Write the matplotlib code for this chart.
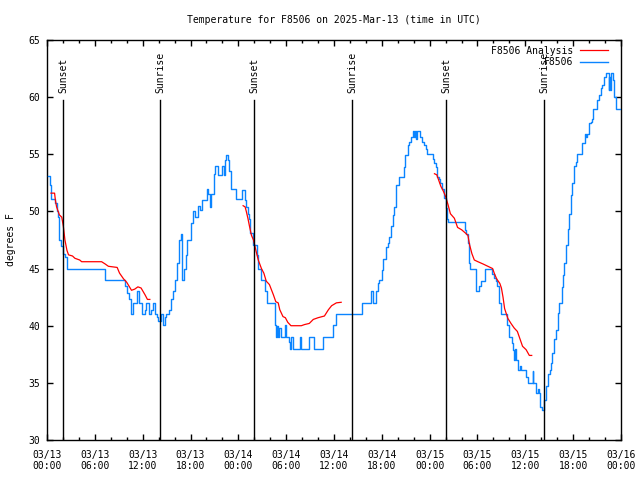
#!/usr/bin/env python3

import numpy as np
import matplotlib
matplotlib.use("Agg")
import matplotlib.pyplot as plt
from matplotlib.ticker import MultipleLocator, FixedLocator

#####
##### Data (hours since 2025-03-13 00:00 UTC)
#####

OBS_HOURS = [0.15, 0.35, 0.45, 0.55, 1.0, 1.2, 1.4, 1.55, 1.7, 2.05, 2.25, 2.55, 7.25,
             9.77, 9.98, 10.28, 10.5, 10.8, 11.3, 11.55, 11.95, 12.25, 12.45, 12.85,
             13.1, 13.25, 13.6, 13.8, 13.95, 14.3, 14.5, 14.75, 14.95, 15.3, 15.6,
             15.85, 16.0, 16.35, 16.55, 16.75, 16.95, 17.2, 17.4, 17.6, 18.0, 18.3,
             18.6, 18.9, 19.2, 19.5, 19.8, 20.1, 20.25, 20.4, 20.6, 20.9, 21.1, 21.5,
             22.0, 22.15, 22.3, 22.5, 22.65, 22.8, 23.1, 23.7, 24.4, 24.8, 25.0, 25.2,
             25.35, 25.45, 25.85, 26.3, 26.5, 26.9, 27.3, 27.6, 28.6, 28.7, 28.85,
             29.0, 29.15, 29.3, 29.8, 29.95, 30.4, 30.5, 30.65, 30.8, 31.7, 31.85,
             32.9, 33.5, 34.65, 35.85, 36.3, 39.55, 40.7, 40.9, 41.3, 41.5, 41.6,
             42.05, 42.2, 42.5, 42.75, 42.9, 43.15, 43.35, 43.55, 43.8, 44.15, 44.75,
             44.95, 45.25, 45.45, 45.6, 45.85, 46.0, 46.1, 46.25, 46.4, 46.85, 47.1,
             47.35, 47.5, 47.7, 48.4, 48.55, 48.8, 48.95, 49.2, 49.35, 49.6, 49.75,
             49.85, 50.05, 50.15, 50.35, 52.4, 52.6, 52.8, 52.95, 53.05, 53.75, 53.85,
             54.2, 54.45, 54.9, 55.85, 56.05, 56.3, 56.5, 56.65, 57.0, 57.65, 57.95,
             58.3, 58.45, 58.6, 58.7, 58.8, 59.05, 59.3, 59.4, 60.1, 60.3, 60.9, 61.0,
             61.35, 61.6, 61.75, 61.9, 62.1, 62.3, 62.55, 62.8, 63.05, 63.25, 63.4,
             63.6, 63.85, 64.05, 64.2, 64.55, 64.7, 64.9, 65.1, 65.3, 65.5, 65.7, 65.9,
             66.15, 66.3, 66.45, 67.15, 67.45, 67.55, 67.7, 67.95, 68.2, 68.35, 68.55,
             68.95, 69.25, 69.45, 69.65, 69.85, 70.15, 70.45, 70.55, 70.65, 70.8, 71.0,
             71.1, 71.35, 71.9]
OBS_TEMPS = [53.1, 52.3, 51.6, 51.1, 50.7, 50.0, 49.5, 47.5, 47.0, 46.3, 46.0, 45.0, 44.0,
             43.5, 42.9, 42.3, 41.0, 42.0, 43.0, 42.0, 41.0, 41.4, 42.0, 41.0,
             41.4, 42.0, 41.0, 40.8, 40.4, 41.0, 40.1, 40.8, 41.0, 41.4, 42.3,
             43.0, 44.0, 45.5, 47.5, 48.0, 44.0, 45.0, 46.2, 47.5, 49.0, 50.0,
             49.5, 50.5, 50.1, 51.0, 51.0, 52.0, 51.5, 50.4, 51.5, 53.3, 54.0, 53.2,
             54.0, 53.2, 54.5, 54.9, 54.5, 53.5, 52.0, 51.1, 51.9, 51.0, 50.4, 49.8,
             49.3, 48.1, 47.1, 46.2, 45.0, 44.0, 43.0, 42.0, 40.1, 39.0, 40.0,
             39.0, 39.8, 39.0, 40.1, 39.0, 38.6, 38.0, 39.0, 38.0, 39.0, 38.0,
             39.0, 38.0, 39.0, 40.1, 41.0, 42.0, 43.0, 42.0, 43.0, 43.7, 44.0,
             44.9, 45.8, 46.9, 47.2, 47.8, 48.7, 49.7, 50.4, 52.3, 53.0, 53.9,
             54.9, 55.8, 56.1, 56.5, 57.0, 56.5, 57.0, 56.3, 57.0, 56.5, 56.1,
             55.8, 55.5, 55.0, 54.6, 54.2, 53.9, 53.0, 52.8, 52.5, 52.0, 51.7,
             51.2, 50.3, 49.3, 49.1, 48.4, 48.0, 47.2, 45.5, 45.0, 44.0, 43.0,
             43.5, 43.9, 45.0, 44.5, 44.2, 43.9, 43.5, 42.0, 41.0, 40.1, 39.0,
             38.5, 37.9, 37.0, 38.0, 37.0, 36.1, 36.5, 36.1, 35.5, 35.0, 36.0, 35.0,
             34.1, 34.5, 34.1, 32.9, 32.6, 33.5, 34.7, 35.8, 36.1, 36.7, 37.6,
             38.8, 39.6, 41.1, 42.0, 43.4, 44.4, 45.5, 47.1, 48.5, 49.8, 51.4, 52.5,
             54.0, 54.3, 55.0, 56.0, 56.8, 56.5, 56.8, 57.7, 57.8, 58.1, 59.0,
             59.75, 60.2, 60.8, 61.1, 61.8, 62.1, 60.6, 61.8, 60.6, 62.1, 61.5,
             60.0, 59.0, 59.0]

ANA_HOURS_1 = [0.5, 0.95, 1.05, 1.2, 1.45, 1.55, 1.85, 2.05, 2.25, 2.5, 2.7, 3.2, 3.5,
               4.1, 4.35, 6.85, 7.3, 7.7, 8.8, 9.1, 9.6, 10.0, 10.6, 11.0, 11.4, 11.8,
               12.3, 12.6, 12.9]
ANA_TEMPS_1 = [51.6, 51.6, 51.0, 50.4, 49.9, 49.7, 49.5, 48.7, 47.5, 46.6, 46.2, 46.1, 45.9,
               45.75, 45.6, 45.6, 45.4, 45.2, 45.1, 44.6, 44.1, 43.8, 43.1, 43.2, 43.4, 43.3,
               42.7, 42.3, 42.3]
ANA_HOURS_2 = [24.6, 24.85, 25.0, 25.2, 25.4, 25.65, 25.9, 26.2, 26.5, 26.9, 27.2, 27.5,
               27.9, 28.4, 28.7, 29.0, 29.2, 29.6, 29.9, 30.2, 30.6, 31.9, 32.3, 32.9,
               33.4, 34.0, 34.8, 35.3, 35.7, 36.3, 36.9]
ANA_TEMPS_2 = [50.5, 50.4, 50.0, 49.4, 48.7, 47.9, 47.5, 46.6, 45.75, 45.0, 44.6, 43.9,
               43.6, 42.7, 42.1, 42.0, 41.4, 40.8, 40.7, 40.3, 40.0, 40.0, 40.1, 40.2,
               40.55, 40.7, 40.85, 41.4, 41.75, 42.0, 42.05]
ANA_HOURS_3 = [48.6, 48.9, 49.2, 49.4, 49.7, 50.0, 50.3, 50.6, 51.1, 51.5, 52.0, 52.5,
               52.8, 53.0, 53.3, 53.6, 54.05, 54.7, 55.3, 55.9, 56.1, 56.4, 56.8, 57.0,
               57.2, 57.4, 57.8, 58.2, 58.6, 59.0, 59.3, 59.65, 60.1, 60.5, 60.8]
ANA_TEMPS_3 = [53.3, 53.2, 52.6, 52.2, 51.8, 51.3, 50.6, 49.8, 49.4, 48.6, 48.4, 48.1,
               47.9, 47.1, 46.3, 45.75, 45.6, 45.4, 45.2, 45.0, 44.6, 44.1, 43.7, 43.3,
               42.5, 41.5, 40.65, 40.2, 39.8, 39.5, 38.9, 38.2, 37.9, 37.4, 37.4]

SUN_HOURS = [2.0, 14.17, 25.97, 38.27, 50.05, 62.35]
SUN_LABELS = ["Sunset", "Sunrise", "Sunset", "Sunrise", "Sunset", "Sunrise"]

TICK_HOURS = list(range(0, 73, 6))
TICK_LABELS = ["03/13\n00:00", "03/13\n06:00", "03/13\n12:00", "03/13\n18:00",
               "03/14\n00:00", "03/14\n06:00", "03/14\n12:00", "03/14\n18:00",
               "03/15\n00:00", "03/15\n06:00", "03/15\n12:00", "03/15\n18:00",
               "03/16\n00:00"]

FONT = "DejaVu Sans Mono"
FS = 7
RED = "#ff0000"
BLUE = "#0a84ff"

#####
##### Plot
#####

plt.rc('font', family=FONT, size=FS)

fig = plt.figure(figsize=(6.4, 4.8), dpi=100)
ax = fig.add_axes([47 / 640, 40 / 480, 574 / 640, 400 / 480])

ana_h = ANA_HOURS_1 + [np.nan] + ANA_HOURS_2 + [np.nan] + ANA_HOURS_3
ana_t = ANA_TEMPS_1 + [np.nan] + ANA_TEMPS_2 + [np.nan] + ANA_TEMPS_3
ax.plot(ana_h, ana_t, color=RED, lw=0.9, label="F8506 Analysis", zorder=4)
ax.plot(OBS_HOURS, OBS_TEMPS, color=BLUE, lw=1.0, drawstyle="steps-post",
        label="F8506", zorder=3)

### Sunrise / sunset markers
for h, lab in zip(SUN_HOURS, SUN_LABELS):
    ax.axvline(h, ymin=0, ymax=0.85, color="black", lw=1.0, zorder=5)
    ax.text(h, 0.868, lab, transform=ax.get_xaxis_transform(), rotation=90,
            ha="center", va="bottom", fontsize=FS)

ax.set_xlim(0, 72)
ax.set_ylim(30, 65)
ax.xaxis.set_major_locator(FixedLocator(TICK_HOURS))
ax.set_xticklabels(TICK_LABELS)
ax.xaxis.set_minor_locator(MultipleLocator(2))
ax.yaxis.set_major_locator(MultipleLocator(5))

ax.tick_params(which="both", direction="in", top=True, right=True, width=1.0)
ax.tick_params(axis="x", which="major", length=4.5, pad=7)
ax.tick_params(axis="x", which="minor", length=2.5)
ax.tick_params(axis="y", which="major", length=4, pad=5)
for s in ax.spines.values():
    s.set_linewidth(1.0)

ax.set_ylabel("degrees F", labelpad=9)
ax.set_title("Temperature for F8506 on 2025-Mar-13 (time in UTC)", fontsize=FS, pad=12)

ax.legend(loc="upper right", bbox_to_anchor=(1 - 7 / 574, 1), markerfirst=False,
          frameon=False, handlelength=2.9, handletextpad=0.7, labelspacing=0.15,
          borderaxespad=0.2, fontsize=FS)

plt.savefig("out.png", dpi=100)
